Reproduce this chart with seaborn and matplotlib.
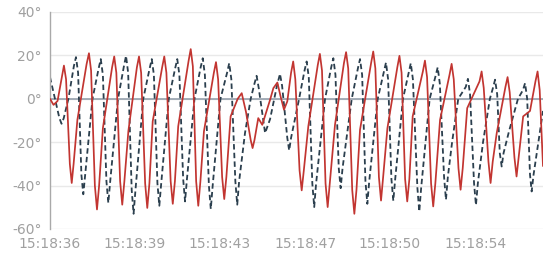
import matplotlib
matplotlib.use("Agg")
import matplotlib.pyplot as plt
import seaborn as sns
import pandas as pd

# ---- data (time in seconds from the first sample, value in degrees) ----
red_t = [0.00, 0.15, 0.32, 0.50, 0.59, 0.68, 0.84, 0.92, 1.00, 1.16,
         1.55, 1.65, 1.74, 1.90, 1.99, 2.08, 2.24,
         2.63, 2.72, 2.81, 2.97, 3.06, 3.15, 3.32,
         3.68, 3.77, 3.86, 4.03, 4.12, 4.21, 4.35,
         4.75, 4.84, 4.93, 5.11, 5.20, 5.29, 5.43,
         5.87, 5.96, 6.05, 6.19, 6.28, 6.37, 6.52,
         6.94, 7.03, 7.12, 7.29, 7.38, 7.47, 7.65,
         7.95, 8.12, 8.30, 8.50, 8.58, 8.66, 8.82, 8.99,
         9.32, 9.46, 9.63, 9.77, 9.91, 10.05,
         10.21, 10.30, 10.39, 10.57, 10.66, 10.75, 10.94,
         11.34, 11.43, 11.52, 11.67, 11.76, 11.85, 12.07,
         12.45, 12.54, 12.63, 12.80, 12.89, 12.98, 13.13,
         13.60, 13.69, 13.78, 13.93, 14.02, 14.11, 14.29,
         14.71, 14.80, 14.89, 15.04, 15.13, 15.22, 15.36,
         15.79, 15.88, 15.97, 16.14, 16.23, 16.32, 16.52,
         16.92, 17.01, 17.10, 17.30, 17.39, 17.48, 17.67,
         18.19, 18.28, 18.37, 18.57, 18.66, 18.75, 18.92,
         19.29, 19.38, 19.47, 19.67, 19.76, 19.85, 20.04,
         20.33, 20.56, 20.65, 20.74, 20.88]
red_v = [0.0, -2.8, -1.0, 10.0, 15.3, 9.0, -30.0, -38.8, -30.0, -9.7,
         16.0, 21.0, 13.0, -40.0, -51.0, -40.0, -13.5,
         14.5, 19.5, 12.0, -38.0, -48.8, -38.0, -14.8,
         14.5, 19.5, 12.0, -39.0, -50.3, -39.0, -10.4,
         14.5, 19.5, 12.0, -38.0, -48.4, -38.0, -12.7,
         17.5, 22.9, 15.0, -38.0, -49.3, -38.0, -15.0,
         12.0, 16.9, 9.0, -36.0, -46.2, -36.0, -8.1,
         0.0, 2.6, -6.0, -19.0, -22.7, -19.0, -8.9, -12.0,
         -0.5, 4.9, 7.5, 0.9, -5.0, -1.2,
         12.0, 17.2, 9.0, -33.0, -42.2, -33.0, -12.7,
         15.5, 20.7, 13.0, -39.0, -49.9, -39.0, -12.0,
         16.5, 21.5, 14.0, -42.0, -53.0, -42.0, -14.3,
         16.5, 21.8, 14.0, -36.0, -46.9, -36.0, -13.6,
         14.5, 19.8, 12.0, -37.0, -47.3, -37.0, -8.1,
         12.5, 17.6, 10.0, -39.0, -49.6, -39.0, -9.7,
         11.0, 16.1, 9.0, -32.0, -41.9, -32.0, -4.3,
         8.0, 12.6, 5.0, -29.0, -38.8, -29.0, -15.8,
         5.5, 10.0, 3.0, -27.0, -35.8, -27.0, -8.1,
         -5.6, 8.0, 12.6, 4.0, -31.0]

dash_t = [0.00, 0.21, 0.40, 0.49, 0.58, 0.78, 1.01, 1.10, 1.19, 1.33, 1.41, 1.49,
          1.80, 2.06, 2.15, 2.24, 2.39, 2.47, 2.55,
          2.88, 3.13, 3.22, 3.31, 3.46, 3.54, 3.62,
          3.95, 4.22, 4.31, 4.40, 4.55, 4.63, 4.71,
          5.03, 5.30, 5.39, 5.48, 5.64, 5.72, 5.80,
          6.12, 6.38, 6.47, 6.56, 6.73, 6.81, 6.89,
          7.22, 7.50, 7.59, 7.68, 7.85, 7.93, 8.01,
          8.26, 8.50, 8.66, 8.75, 8.84, 9.11, 9.32, 9.60, 9.74, 9.83,
          10.05, 10.13, 10.21, 10.55, 10.78, 10.87, 10.96, 11.11, 11.19, 11.27,
          11.65, 11.91, 12.00, 12.09, 12.23, 12.31, 12.39,
          12.78, 13.04, 13.13, 13.22, 13.36, 13.44, 13.52,
          13.88, 14.14, 14.23, 14.32, 14.46, 14.54, 14.62,
          14.95, 15.19, 15.28, 15.37, 15.56, 15.64, 15.72,
          16.08, 16.33, 16.42, 16.51, 16.69, 16.77, 16.85,
          17.03, 17.29, 17.61, 17.70, 17.79, 17.96, 18.04, 18.12,
          18.34, 18.63, 18.76, 18.85, 18.94, 19.05, 19.13, 19.21,
          19.44, 19.82, 20.03, 20.12, 20.21, 20.33, 20.40, 20.48, 20.88]
dash_v = [10.0, 0.0, -9.0, -11.5, -9.0, 0.0, 15.0, 19.2, 12.0, -35.0, -44.0, -35.0,
          0.0, 14.0, 18.3, 11.0, -38.0, -48.0, -38.0,
          0.0, 15.0, 19.8, 12.0, -42.0, -53.0, -42.0,
          0.0, 14.0, 18.3, 11.0, -39.0, -49.3, -39.0,
          0.0, 14.0, 18.3, 11.0, -37.0, -47.3, -37.0,
          0.0, 14.5, 18.7, 11.0, -40.0, -50.8, -40.0,
          0.0, 12.0, 16.4, 9.0, -38.0, -48.8, -38.0,
          -15.7, 0.0, 7.0, 10.6, 5.0, -15.8, -9.4, 5.4, 11.5, 6.0,
          -18.0, -23.8, -18.0, 0.0, 13.0, 17.2, 10.0, -39.0, -49.9, -39.0,
          0.0, 14.5, 18.7, 11.0, -32.0, -41.2, -32.0,
          0.0, 14.0, 18.3, 11.0, -38.0, -48.4, -38.0,
          0.0, 12.5, 16.7, 9.0, -37.0, -47.0, -37.0,
          0.0, 12.0, 16.4, 9.0, -41.0, -52.0, -41.0,
          0.0, 10.5, 14.5, 7.0, -36.0, -46.5, -36.0,
          -20.0, 0.0, 5.5, 9.2, 2.0, -39.0, -49.0, -39.0,
          -20.0, 0.0, 5.0, 8.8, 2.0, -25.0, -31.2, -25.0,
          -15.0, 0.0, 4.0, 7.2, 0.0, -35.0, -42.7, -35.0, -5.6]

x_tick_pos = [0.0, 3.6, 7.2, 10.8, 14.4, 18.0]
x_tick_labels = ["15:18:36", "15:18:39", "15:18:43", "15:18:47", "15:18:50", "15:18:54"]
y_ticks = [-60, -40, -20, 0, 20, 40]

sns.set_theme(style="white")
plt.rcParams['font.family'] = ['DejaVu Sans']

W, H = 550, 261
fig = plt.figure(figsize=(W / 100, H / 100), dpi=100)
left, right, top, bottom = 50, 543, 12, 229
ax = fig.add_axes([left / W, 1 - bottom / H, (right - left) / W, (bottom - top) / H])

df_red = pd.DataFrame({"t": red_t, "v": red_v})
df_dash = pd.DataFrame({"t": dash_t, "v": dash_v})

ax.axhline(0, color="#8d99a6", lw=1.1, zorder=1)
sns.lineplot(data=df_dash, x="t", y="v", ax=ax, color="#2b3f4e", lw=1.3,
             linestyle=(0, (3.0, 1.8)), sort=False, zorder=2)
sns.lineplot(data=df_red, x="t", y="v", ax=ax, color="#c23531", lw=1.25,
             sort=False, zorder=3)

ax.set_xlim(0, 20.88)
ax.set_ylim(-60, 40)
ax.set_yticks(y_ticks)
ax.set_yticklabels([f"{v}°" for v in y_ticks])
ax.set_xticks(x_tick_pos)
ax.set_xticklabels(x_tick_labels)
ax.set_xlabel("")
ax.set_ylabel("")

ax.yaxis.grid(True, color="#e9e9e9", lw=1.0)
ax.xaxis.grid(False)
ax.set_axisbelow(True)
for s in ["top", "right", "bottom"]:
    ax.spines[s].set_visible(False)
ax.spines["left"].set_color("#a9a9a9")
ax.spines["left"].set_linewidth(1.0)

ax.tick_params(axis="y", direction="out", length=4, width=1.0, color="#a9a9a9",
               labelsize=10, labelcolor="#a0a0a0", pad=2)
ax.tick_params(axis="x", length=0, labelsize=10, labelcolor="#a0a0a0", pad=6)

fig.savefig("out.png", dpi=100)
